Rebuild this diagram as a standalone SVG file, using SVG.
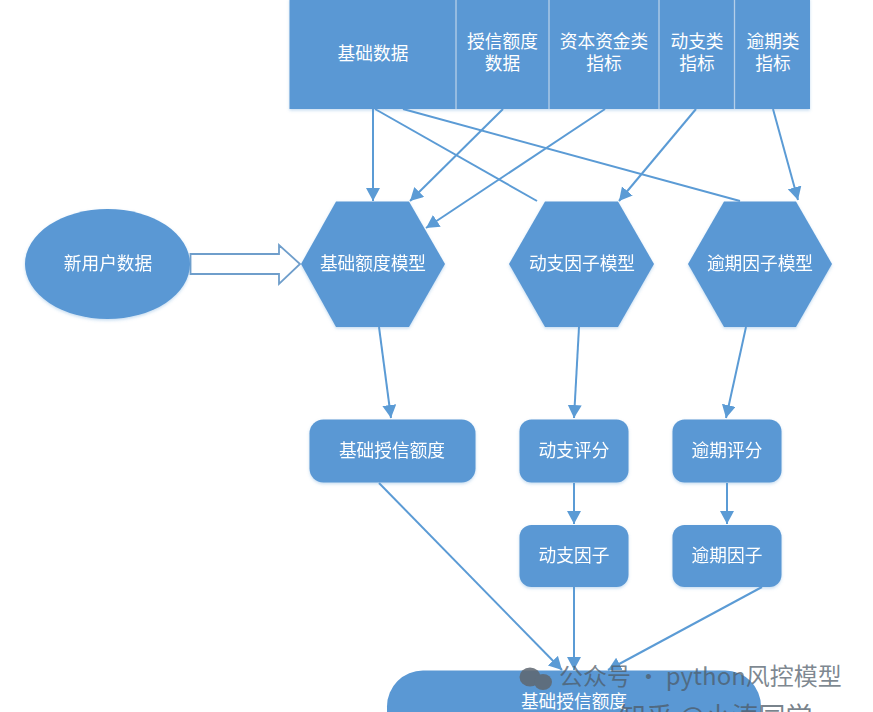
<svg xmlns="http://www.w3.org/2000/svg" width="873" height="712" viewBox="0 0 873 712">
<style>
.s{fill:#5a98d4}
.t{font-family:"Noto Sans CJK SC","Liberation Sans",sans-serif;font-size:17.700px;fill:#fff;text-anchor:middle}
.c{stroke:#5b9bd5;stroke-width:2;fill:none;marker-end:url(#a)}
.n{stroke:#5b9bd5;stroke-width:2;fill:none}
.w{font-family:"Noto Sans CJK SC","Liberation Sans",sans-serif;text-anchor:start}
</style>
<defs>
<marker id="a" markerUnits="userSpaceOnUse" markerWidth="15" markerHeight="15" refX="13" refY="7" orient="auto"><path d="M0 0L13 7L0 14Z" fill="#5b9bd5"/></marker>
<filter id="sh" x="-5%" y="-5%" width="110%" height="115%"><feDropShadow dx="0" dy="1.500" stdDeviation="1.500" flood-color="#5b9bd5" flood-opacity=".35"/></filter>
</defs>
<rect width="873" height="712" fill="#fff"/>
<g id="connectors">
<path class="c" d="M373 109V201"/>
<path class="n" d="M375 109L537 201"/>
<path class="n" d="M403 109L740 201"/>
<path class="c" d="M503 109L410 201"/>
<path class="c" d="M605 109L426 228"/>
<path class="c" d="M696 109L619 201"/>
<path class="c" d="M773 109L798 200"/>
<path class="c" d="M379 327L391 418"/>
<path class="c" d="M579 327L574 418"/>
<path class="c" d="M746 327L726 418"/>
<path class="c" d="M574 483V524"/>
<path class="c" d="M727 483V524"/>
<path class="c" d="M379 483L562 670"/>
<path class="c" d="M574 587V670"/>
<path class="c" d="M762 587L608 670"/>
<path id="big-arrow" d="M190.500 254H279V245L300 264L279 284V274H190.500Z" fill="#fff" stroke="#6f9ecb" stroke-width="1.800"/>
</g>
<g id="data-table" filter="url(#sh)">
<rect class="s" x="289.500" y="-2" width="520.500" height="111"/>
<path d="M456 0V109M549 0V109M659 0V109M734.500 0V109" stroke="#b5cfe9" stroke-width="1.300"/>
</g>
<g id="table-labels">
<text class="t" x="373" y="60">基础数据</text>
<text class="t" x="502.500" y="47.500">授信额度</text><text class="t" x="502.500" y="70">数据</text>
<text class="t" x="604" y="47.500">资本资金类</text><text class="t" x="604" y="70">指标</text>
<text class="t" x="697" y="47.500">动支类</text><text class="t" x="697" y="70">指标</text>
<text class="t" x="773" y="47.500">逾期类</text><text class="t" x="773" y="70">指标</text>
</g>
<g id="new-user" filter="url(#sh)"><ellipse class="s" cx="107.500" cy="264" rx="82.500" ry="55"/><text class="t" x="108" y="270">新用户数据</text></g>
<g id="hex1" filter="url(#sh)"><path class="s" d="M301 264L336 201.500H409L445 264L409 327H336Z"/><text class="t" x="373" y="270">基础额度模型</text></g>
<g id="hex2" filter="url(#sh)"><path class="s" d="M509 264L545 201.500H618L654 264L618 327H545Z"/><text class="t" x="582" y="270">动支因子模型</text></g>
<g id="hex3" filter="url(#sh)"><path class="s" d="M688 264L724 201.500H796L832 264L796 327H724Z"/><text class="t" x="760" y="270">逾期因子模型</text></g>
<g id="base-credit" filter="url(#sh)"><rect class="s" x="309.500" y="419.500" width="166" height="63" rx="14"/><text class="t" x="392" y="457">基础授信额度</text></g>
<g id="draw-score" filter="url(#sh)"><rect class="s" x="519.500" y="419.500" width="109" height="63" rx="12"/><text class="t" x="574" y="457">动支评分</text></g>
<g id="overdue-score" filter="url(#sh)"><rect class="s" x="672.500" y="419.500" width="109" height="63" rx="12"/><text class="t" x="727" y="457">逾期评分</text></g>
<g id="draw-factor" filter="url(#sh)"><rect class="s" x="519.500" y="525" width="109" height="62" rx="12"/><text class="t" x="574" y="562">动支因子</text></g>
<g id="overdue-factor" filter="url(#sh)"><rect class="s" x="672.500" y="525" width="109" height="62" rx="12"/><text class="t" x="727" y="562">逾期因子</text></g>
<g id="final-credit"><rect class="s" x="387" y="670.500" width="374" height="90" rx="36"/><text class="t" x="574" y="708">基础授信额度</text></g>
<g id="watermark">
<g fill="#5f6770" opacity=".85"><ellipse cx="530" cy="677" rx="10.500" ry="9.500"/><ellipse cx="543" cy="682" rx="9" ry="8"/></g>
<text class="w" x="559" y="685" font-size="24" fill="#4d5a66" fill-opacity=".72">公众号 · python风控模型</text>
<text class="w" x="619" y="727" font-size="27" fill="#4d5a66" fill-opacity=".75">知乎 @小涛同学</text>
</g>
</svg>
